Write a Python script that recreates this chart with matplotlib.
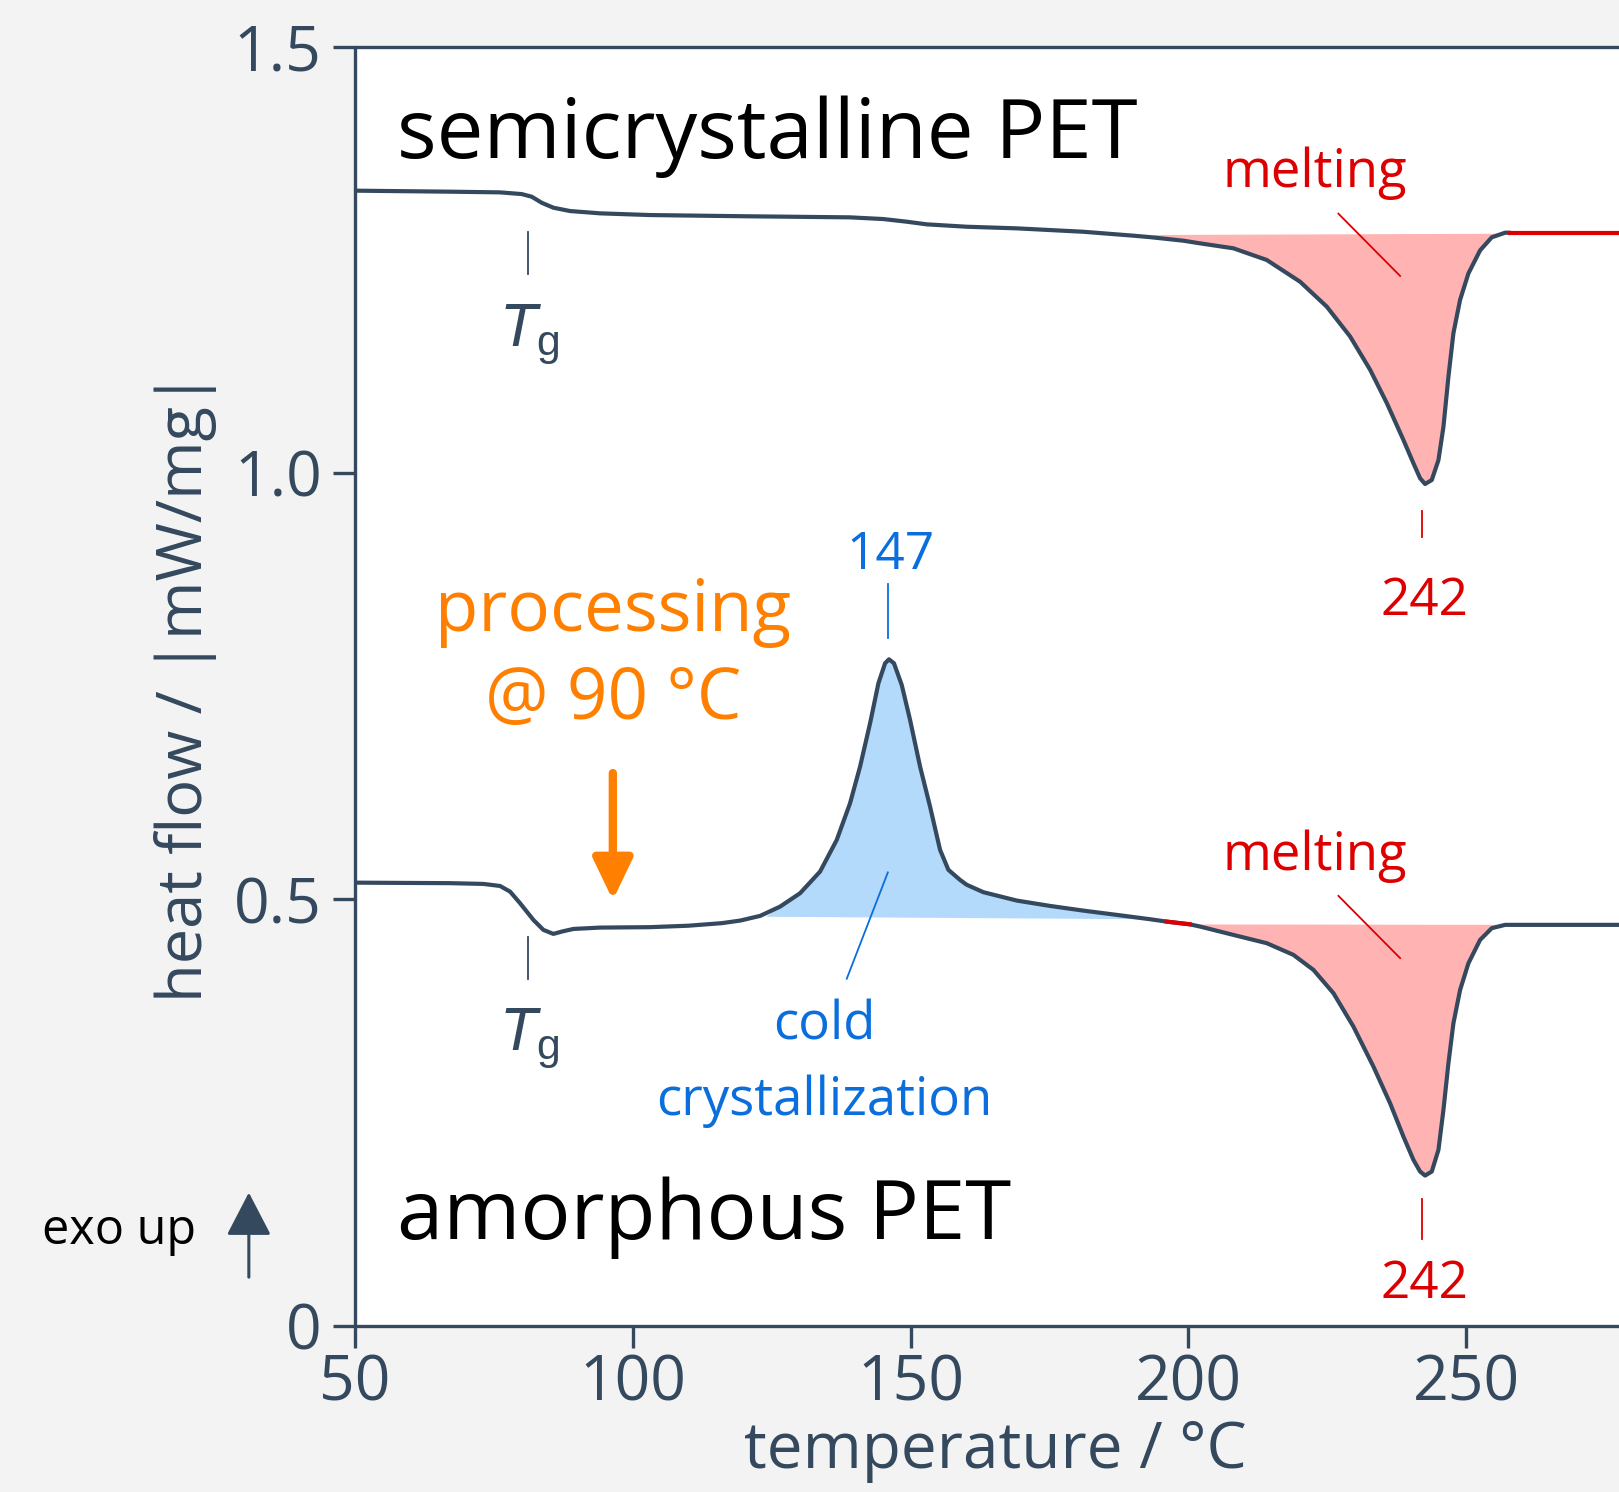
import numpy as np
import matplotlib
matplotlib.use("Agg")
import matplotlib.pyplot as plt

plt.rcParams['font.family'] = ['Open Sans', 'DejaVu Sans']
plt.rcParams['mathtext.fontset'] = 'custom'
plt.rcParams['mathtext.it'] = 'Liberation Sans:italic'
plt.rcParams['mathtext.rm'] = 'Liberation Sans'

# DSC curves (temperature in °C, heat flow in mW/mg)
semi_T = [50, 67.1, 76.1, 80.0, 81.8, 83.6, 85.7, 88.7, 94.1, 103.1, 120.0, 139.1, 145.1,
          149.3, 152.9, 160.1, 169.1, 181.1, 190.1, 193.1, 199.1, 202.1, 208.1, 214.1,
          220.1, 224.9, 229.1, 232.7, 235.7, 238.7, 240.5, 241.7, 242.6, 243.8, 245.0,
          245.9, 246.8, 247.7, 248.9, 250.4, 252.5, 254.6, 257.0, 257.9]
semi_v = [1.331, 1.3298, 1.3290, 1.3270, 1.3239, 1.3168, 1.3110, 1.3071, 1.3044, 1.3024, 1.301, 1.2997, 1.2977,
          1.2946, 1.2915, 1.2887, 1.2868, 1.2828, 1.2782, 1.2765, 1.2723, 1.2692, 1.2634, 1.2497,
          1.2242, 1.195, 1.160, 1.121, 1.082, 1.0386, 1.0113, 0.9937, 0.987, 0.9917, 1.015,
          1.054, 1.113, 1.164, 1.203, 1.234, 1.261, 1.2763, 1.2817, 1.2817]
semi_tail_T = [257.9, 277.5]
semi_tail_v = [1.2817, 1.2817]

amor_T = [50, 67.1, 73.1, 76.1, 77.9, 79.7, 82.1, 83.9, 85.7, 87.2, 89.3, 94.1, 103.1,
          110.0, 116.0, 119.3, 122.9, 126.5, 130.1, 133.7, 136.7, 139.1, 140.9, 142.7,
          144.2, 145.4, 146.1, 147.0, 148.4, 149.9, 151.7, 153.5, 155.3, 156.8, 158.9,
          160.1, 163.1, 169.1, 175.1, 181.1, 187.1, 193.1, 196.1, 200.2, 202.1, 208.1,
          214.1, 218.9, 222.5, 226.1, 229.7, 233.3, 236.3, 238.7, 240.5, 241.7, 242.6,
          243.8, 245.0, 245.9, 246.8, 247.7, 248.9, 250.4, 252.5, 254.6, 257.0, 277.5]
amor_v = [0.5195, 0.5189, 0.5180, 0.5156, 0.5090, 0.4954, 0.4758, 0.4641, 0.4594, 0.4621, 0.4652, 0.4668, 0.4673,
          0.4690, 0.4720, 0.4750, 0.4805, 0.4914, 0.5071, 0.5325, 0.5696, 0.6127, 0.6556, 0.7064,
          0.7533, 0.7768, 0.7814, 0.7768, 0.7513, 0.7103, 0.6556, 0.6086, 0.5579, 0.5345, 0.5227,
          0.517, 0.5083, 0.4985, 0.4922, 0.4867, 0.4817, 0.4766, 0.4738, 0.4707, 0.4680, 0.4582,
          0.4485, 0.4348, 0.4172, 0.3899, 0.3507, 0.3038, 0.2608, 0.2217, 0.1944, 0.1807, 0.1760,
          0.1807, 0.2061, 0.2530, 0.3078, 0.3547, 0.3937, 0.4250, 0.4524, 0.4661, 0.4700, 0.4700]
amor_red_T = [196.1, 200.2]

# peak baselines (start, end)
cold_base_T = [124.0, 193.1]
cold_base_v = [0.4795, 0.4766]
semi_melt_base_T = [193.1, 257.0]
semi_melt_base_v = [1.2790, 1.2805]
amor_melt_base_T = [200.2, 257.0]
amor_melt_base_v = [0.4705, 0.4700]

tg = 81.2
peak_cold = 147
peak_melt = 242

xticks = [50, 100, 150, 200, 250]
yticks = [0, 0.5, 1.0, 1.5]
ytick_labels = ['0', '0.5', '1.0', '1.5']

dark = '#34495e'
red = '#dd0000'
blue = '#0a6edc'
orange = '#ff8000'


def peak_polygon(T, v, base_T, base_v):
    T = np.asarray(T)
    v = np.asarray(v)
    m = (T > base_T[0]) & (T < base_T[1])
    xs = np.r_[base_T[0], T[m], base_T[1]]
    ys = np.r_[base_v[0], v[m], base_v[1]]
    return xs, ys


fig = plt.figure(figsize=(16.19, 14.92), dpi=100, facecolor='#f3f3f3')
ax = fig.add_axes([0.2193, 0.1115, 0.7807, 0.8573])
ax.set_facecolor('white')

# filled peak areas
xs, ys = peak_polygon(amor_T, amor_v, cold_base_T, cold_base_v)
ax.fill(xs, ys, color='#b3d9fb', lw=0, zorder=1)
xs, ys = peak_polygon(semi_T, semi_v, semi_melt_base_T, semi_melt_base_v)
ax.fill(xs, ys, color='#ffb3b3', lw=0, zorder=1)
xs, ys = peak_polygon(amor_T, amor_v, amor_melt_base_T, amor_melt_base_v)
ax.fill(xs, ys, color='#ffb3b3', lw=0, zorder=1)

# curves
lw = 3.0
ax.plot(semi_T, semi_v, color=dark, lw=lw, solid_capstyle='round',
        solid_joinstyle='round', zorder=3)
ax.plot(semi_tail_T, semi_tail_v, color=red, lw=lw, zorder=3)
ax.plot(amor_T, amor_v, color=dark, lw=lw, solid_capstyle='round',
        solid_joinstyle='round', zorder=3)
i0 = amor_T.index(amor_red_T[0])
i1 = amor_T.index(amor_red_T[1])
ax.plot(amor_T[i0:i1 + 1], amor_v[i0:i1 + 1], color=red, lw=lw, zorder=4)

ax.set_xlim(50, 277.5)
ax.set_ylim(0, 1.5)
ax.set_xticks(xticks)
ax.set_yticks(yticks)
ax.set_yticklabels(ytick_labels)
ax.spines['right'].set_visible(False)
for s in ['left', 'top', 'bottom']:
    ax.spines[s].set_color(dark)
    ax.spines[s].set_linewidth(2.4)
    ax.spines[s].set_capstyle('round')
ax.tick_params(direction='out', length=16, width=2.4, color=dark,
               labelcolor=dark, labelsize=45)
ax.tick_params(axis='y', pad=8)
ax.tick_params(axis='x', pad=4)

# curve names
ax.text(57.6, 1.394, 'semicrystalline PET', fontsize=60, color='black', ha='left', va='center')
ax.text(57.6, 0.126, 'amorphous PET', fontsize=60, color='black', ha='left', va='center')

# Tg markers
for y0, ylab in [(1.282, 1.162), (0.456, 0.336)]:
    ax.plot([tg, tg], [y0, y0 - 0.049], color=dark, lw=1.3)
    ax.text(tg + 0.2, ylab, r'$T_\mathrm{g}$', fontsize=44, color=dark,
            ha='center', va='center')

# melting labels
for off in [0.0, -0.8]:
    ax.text(222.7, 1.351 + off, 'melting', fontsize=38, color=red, ha='center', va='center')
    ax.plot([227.0, 238.1], [1.304 + off, 1.231 + off], color=red, lw=1.3)
for ytop, ybot, ylab in [(0.955, 0.925, 0.849), (0.148, 0.102, 0.048)]:
    ax.plot([peak_melt, peak_melt], [ytop, ybot], color=red, lw=1.3)
    ax.text(peak_melt + 0.5, ylab, str(peak_melt), fontsize=37, color=red,
            ha='center', va='center')

# cold crystallization
ax.text(146.3, 0.903, str(peak_cold), fontsize=37, color=blue, ha='center', va='center')
ax.plot([146.0, 146.0], [0.870, 0.806], color=blue, lw=1.3)
ax.plot([145.9, 138.5], [0.5315, 0.4068], color=blue, lw=1.3)
ax.text(134.4, 0.3075, 'cold\ncrystallization', fontsize=38, color=blue,
        ha='center', va='center', linespacing=1.55)

# processing
ax.text(96.5, 0.785, 'processing\n@ 90 °C', fontsize=51, color=orange,
        ha='center', va='center', linespacing=1.3)
ax.annotate('', xy=(96.4, 0.499), xytext=(96.4, 0.648),
            arrowprops=dict(arrowstyle='-|>,head_length=1.25,head_width=0.6',
                            mutation_scale=20, color=orange, lw=6.0,
                            shrinkA=0, shrinkB=0))

# exo up
fig.text(0.0733, 0.175, 'exo up', fontsize=35, color='black', ha='center', va='center')
fig.patches.append(matplotlib.patches.FancyArrowPatch(
    (0.1537, 0.144), (0.1537, 0.2007), transform=fig.transFigure,
    arrowstyle='-|>,head_length=1.35,head_width=0.7', mutation_scale=20,
    color=dark, lw=2.2, shrinkA=0, shrinkB=0))

# axis labels
fig.text(0.1148, 0.5398, 'heat flow / |mW/mg|', fontsize=45.5, color=dark,
         rotation=90, ha='center', va='center')
fig.text(0.615, 0.0277, 'temperature / °C', fontsize=46, color=dark,
         ha='center', va='center')

fig.savefig('out.png', dpi=100, facecolor=fig.get_facecolor())
